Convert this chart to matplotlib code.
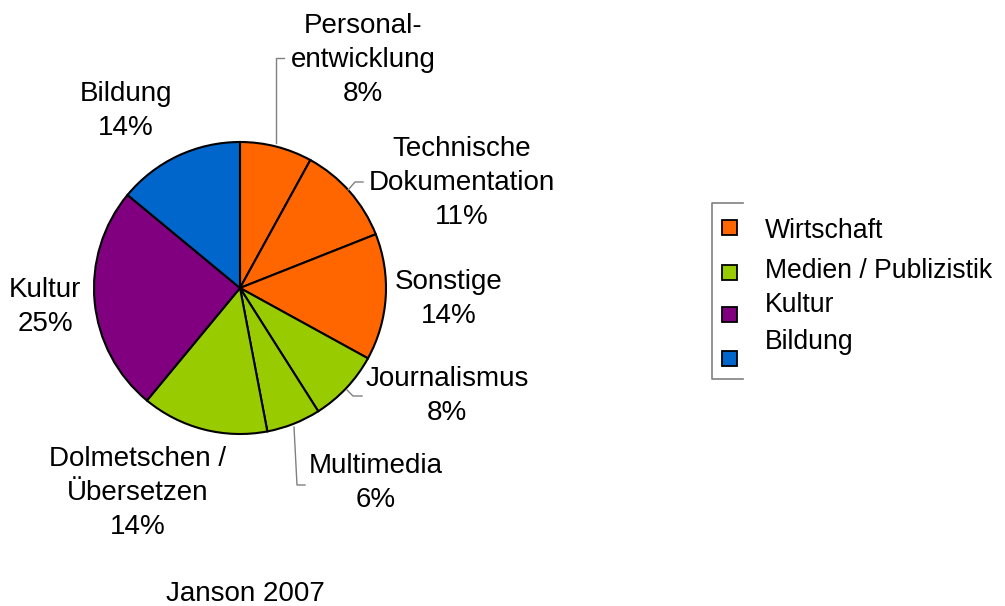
import matplotlib
matplotlib.use("Agg")
from matplotlib import pyplot as plt
from matplotlib.patches import Rectangle

plt.rcParams['font.family'] = ['Liberation Sans', 'DejaVu Sans']

# data
labels = ["Personal-\nentwicklung", "Technische\nDokumentation", "Sonstige",
          "Journalismus", "Multimedia", "Dolmetschen /\nÜbersetzen",
          "Kultur", "Bildung"]
values = [8, 11, 14, 8, 6, 14, 25, 14]
groups = ["Wirtschaft", "Wirtschaft", "Wirtschaft", "Medien / Publizistik",
          "Medien / Publizistik", "Medien / Publizistik", "Kultur", "Bildung"]
legend_names = ["Wirtschaft", "Medien / Publizistik", "Kultur", "Bildung"]
legend_colors = ["#FF6600", "#99CC00", "#800080", "#0066CC"]
caption = "Janson 2007"

W, H = 1005, 606
fig = plt.figure(figsize=(W/100, H/100), dpi=100)
ax = fig.add_axes([0, 0, 1, 1])

def px(x, y):
    # pixel coords (top-left origin) -> data coords
    return x, H - y

color_of = dict(zip(legend_names, legend_colors))
colors = [color_of[g] for g in groups]

ax.pie(values, colors=colors, startangle=90, counterclock=False,
       center=px(240, 288), radius=146, frame=True,
       wedgeprops=dict(edgecolor="black", linewidth=1.5))
ax.set_xlim(0, W)
ax.set_ylim(0, H)
ax.set_aspect('equal')
ax.axis('off')

# label positions (pixel centres)
label_pos = [(363, 60), (462, 183), (449, 299), (447, 396), (376, 483),
             (138, 493), (45, 307), (126, 111)]
FS = 20
for lab, v, (x, y) in zip(labels, values, label_pos):
    ax.text(*px(x, y), f"{lab}\n{v}%", ha="center", va="center",
            fontsize=FS, linespacing=1.42)

# leader lines
leaders = [
    [(276, 143), (276, 58), (284, 58)],
    [(348, 190), (355, 182), (363, 182)],
    [(347, 390), (353, 396), (362, 396)],
    [(294, 427), (297, 485), (305, 485)],
]
for pts in leaders:
    xs = [p[0] for p in pts]
    ys = [H - p[1] for p in pts]
    ax.plot(xs, ys, color="#808080", linewidth=1)

ax.text(*px(245, 594), caption, ha="center", va="center", fontsize=FS)

# legend frame (left bracket)
ax.plot([743, 712, 712, 743], [H - 203, H - 203, H - 379, H - 379],
        color="#808080", linewidth=1.2)
marker_y = [227, 272, 314, 358]
text_y = [231, 271, 305, 342]
for name, c, my, ty in zip(legend_names, legend_colors, marker_y, text_y):
    ax.add_patch(Rectangle(px(722, my + 7.5), 15, 15, facecolor=c,
                           edgecolor="black", linewidth=1.3))
    ax.text(*px(765, ty), name, ha="left", va="center", fontsize=19.2)

plt.savefig("out.png", dpi=100)
